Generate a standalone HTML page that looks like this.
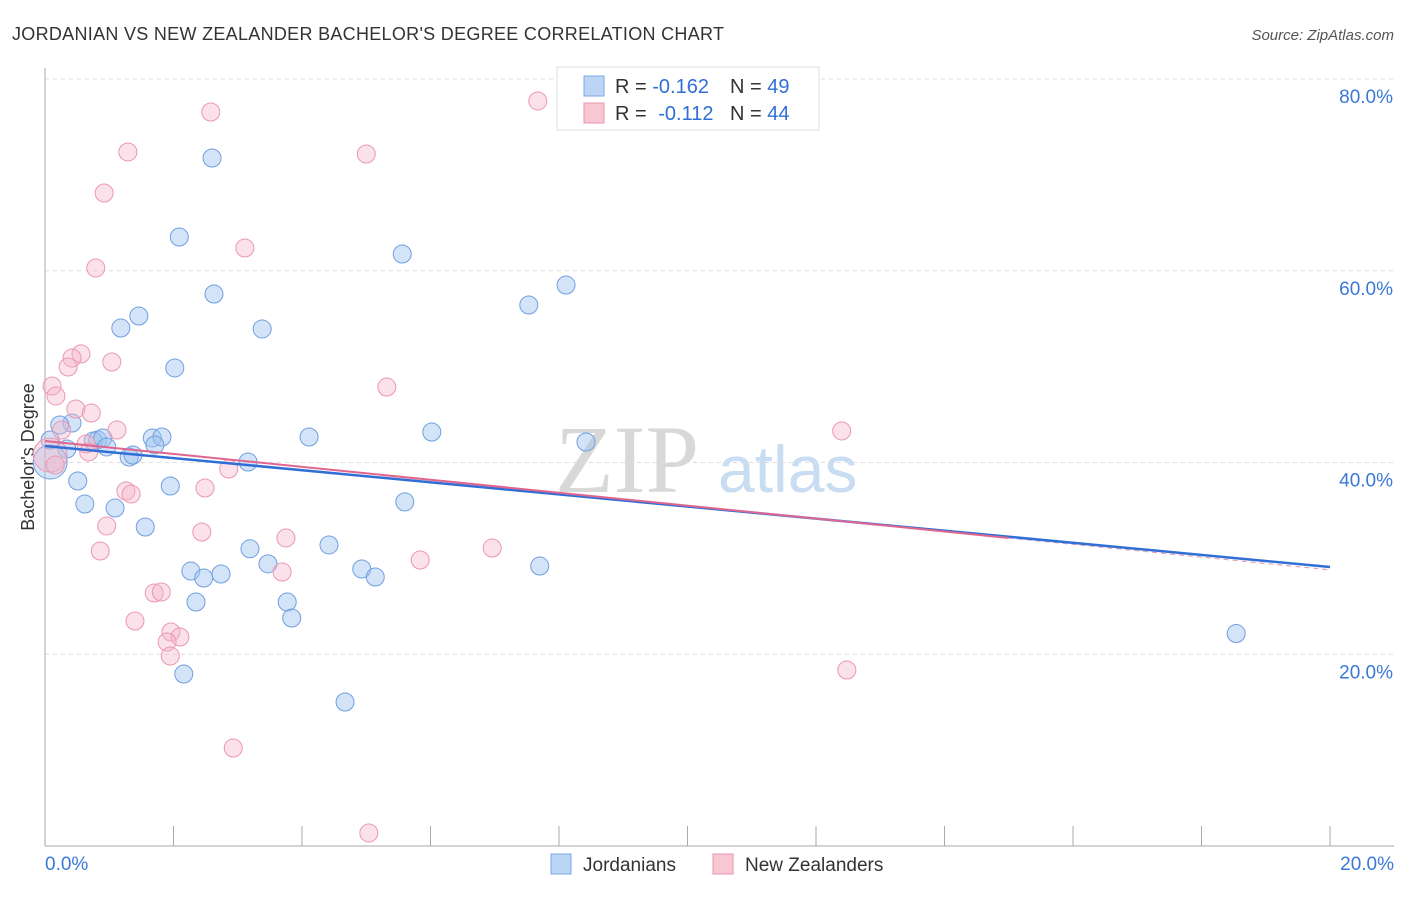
<!DOCTYPE html>
<html><head><meta charset="utf-8"><style>
body{margin:0;background:#fff;font-family:"Liberation Sans",sans-serif}
</style></head><body>
<svg id="c" width="1406" height="892">
<text x="12" y="40" font-size="18" fill="#333" textLength="712" lengthAdjust="spacing">JORDANIAN VS NEW ZEALANDER BACHELOR'S DEGREE CORRELATION CHART</text>
<text x="1394" y="40" font-size="15" fill="#555" font-style="italic" text-anchor="end">Source: ZipAtlas.com</text>
<text x="0" y="0" transform="translate(34,457) rotate(-90)" font-size="18" fill="#333" text-anchor="middle">Bachelor's Degree</text>
<text x="555" y="492" font-size="96" fill="#d8d8d8" font-family="Liberation Serif,serif">ZIP</text>
<text x="718" y="492" font-size="66" fill="#c8dcf2">atlas</text>
<g id="grid"></g><g id="pts"></g><g id="lines"></g>
<g>
<rect x="557" y="67" width="262" height="63" fill="#fff" stroke="#ddd"/>
<rect x="584" y="76" width="20" height="20" fill="#bcd5f5" stroke="#7aa8e6"/>
<rect x="584" y="103" width="20" height="20" fill="#f9c6d4" stroke="#eb95ae"/>
<text x="615" y="93" font-size="20" fill="#333">R = <tspan fill="#2f6fd6">-0.162</tspan><tspan x="730">N = </tspan><tspan fill="#2f6fd6">49</tspan></text>
<text x="615" y="120" font-size="20" fill="#333">R = <tspan fill="#2f6fd6" dx="6">-0.112</tspan><tspan x="730">N = </tspan><tspan fill="#2f6fd6">44</tspan></text>
</g>
<g>
<rect x="551" y="854" width="20" height="20" fill="#bcd5f5" stroke="#7aa8e6"/>
<text x="583" y="871" font-size="19" fill="#333">Jordanians</text>
<rect x="713" y="854" width="20" height="20" fill="#f9c6d4" stroke="#eb95ae"/>
<text x="745" y="871" font-size="19" fill="#333">New Zealanders</text>
</g>
</svg>
<script>
const yTicks=[20,40,60,80];
const xTickLabels=["0.0%","20.0%"];
const blueX=[2.60,2.09,5.56,8.11,7.53,2.63,1.46,1.18,3.38,2.02,0.42,0.23,0.82,0.75,0.90,0.96,1.67,1.82,1.71,1.31,1.37,0.34,3.16,4.11,6.02,8.42,0.51,0.62,1.09,1.56,1.95,5.60,3.19,3.47,4.42,4.93,5.14,2.27,2.47,2.74,2.35,3.77,3.84,7.70,2.16,4.67,18.54,0.08,0.08];
const blueY=[71.76,63.52,61.75,58.51,56.43,57.57,55.28,54.03,53.93,49.86,44.12,43.91,42.35,42.24,42.56,41.62,42.56,42.66,41.83,40.57,40.78,41.41,40.05,42.66,43.18,42.14,38.07,35.67,35.25,33.27,37.55,35.89,31.00,29.43,31.40,28.89,28.06,28.68,27.95,28.37,25.45,25.45,23.78,29.20,17.94,15.02,22.16,40.05,42.35];
const blueBig=[47];
const pinkX=[7.67,2.58,1.29,5.00,0.92,3.11,0.79,0.56,0.42,0.36,1.04,0.11,0.17,0.48,0.72,5.32,1.12,0.64,0.68,0.26,12.40,2.86,1.26,1.34,2.49,0.96,0.86,2.44,3.75,3.69,5.84,6.96,1.70,1.81,1.40,1.96,2.10,1.90,1.95,12.48,2.93,5.04,0.08,0.16];
const pinkY=[77.71,76.56,72.39,72.18,68.11,62.37,60.29,51.33,50.90,49.96,50.48,47.98,46.94,45.58,45.16,47.87,43.39,41.93,41.10,43.39,43.29,39.32,37.03,36.71,37.34,33.38,30.77,32.75,32.13,28.58,29.83,31.08,26.39,26.49,23.47,22.32,21.80,21.28,19.82,18.36,10.22,1.36,40.78,39.74];
const pinkBig=[42];
const blueTrend=[41.72,29.10];
const pinkTrend=[42.24,32.13,28.8];
const pinkTrendEndX=15;
const NS="http://www.w3.org/2000/svg";
const X=v=>45+v/20*1285, Y=v=>846-v/80*767;
function mk(t,a,p){const e=document.createElementNS(NS,t);for(const k in a)e.setAttribute(k,a[k]);p.appendChild(e);return e;}
const g=document.getElementById('grid');
yTicks.forEach(t=>{
 const l=mk('line',{x1:45,x2:1394,y1:Y(t),y2:Y(t),stroke:'#ddd','stroke-dasharray':'4,4'},g);
 
 
 const tx=mk('text',{x:1393,y:Y(t)+24,'font-size':19,fill:'#3a78d8','text-anchor':'end'},g);tx.textContent=t.toFixed(1)+'%';
 
 
});
mk('line',{x1:45,x2:45,y1:68,y2:846,stroke:'#aaa'},g);
mk('line',{x1:45,x2:1394,y1:846,y2:846,stroke:'#aaa'},g);
for(let i=0;i<=10;i++){mk('line',{x1:X(i*2),x2:X(i*2),y1:826,y2:846,stroke:'#aaa'},g);}
xTickLabels.forEach((s,i)=>{const tx=mk('text',{x:i?1394:45,y:870,'font-size':19,fill:'#3a78d8','text-anchor':i?'end':'start'},g);tx.textContent=s;
 
 });
const P=document.getElementById('pts');
blueX.forEach((v,i)=>{const c=mk('circle',{cx:X(v),cy:Y(blueY[i]),r:blueBig.includes(i)?17:9,fill:'rgba(160,196,240,0.45)',stroke:'#6f9fe0','stroke-width':1},P);
 
 });
pinkX.forEach((v,i)=>{const c=mk('circle',{cx:X(v),cy:Y(pinkY[i]),r:pinkBig.includes(i)?17:9,fill:'rgba(245,180,200,0.4)',stroke:'#eb98b0','stroke-width':1},P);
 
 });
const L=document.getElementById('lines');
const pd=mk('line',{x1:X(pinkTrendEndX),y1:Y(pinkTrend[1]),x2:X(20),y2:Y(pinkTrend[2]),stroke:'#e8a0b5','stroke-width':1.2,'stroke-dasharray':'5,4'},L);


const bl=mk('line',{x1:X(0),y1:Y(blueTrend[0]),x2:X(20),y2:Y(blueTrend[1]),stroke:'#2f6fd6','stroke-width':2.5},L);


const pl=mk('line',{x1:X(0),y1:Y(pinkTrend[0]),x2:X(pinkTrendEndX),y2:Y(pinkTrend[1]),stroke:'#e06690','stroke-width':2},L);


</script>
</body></html>
